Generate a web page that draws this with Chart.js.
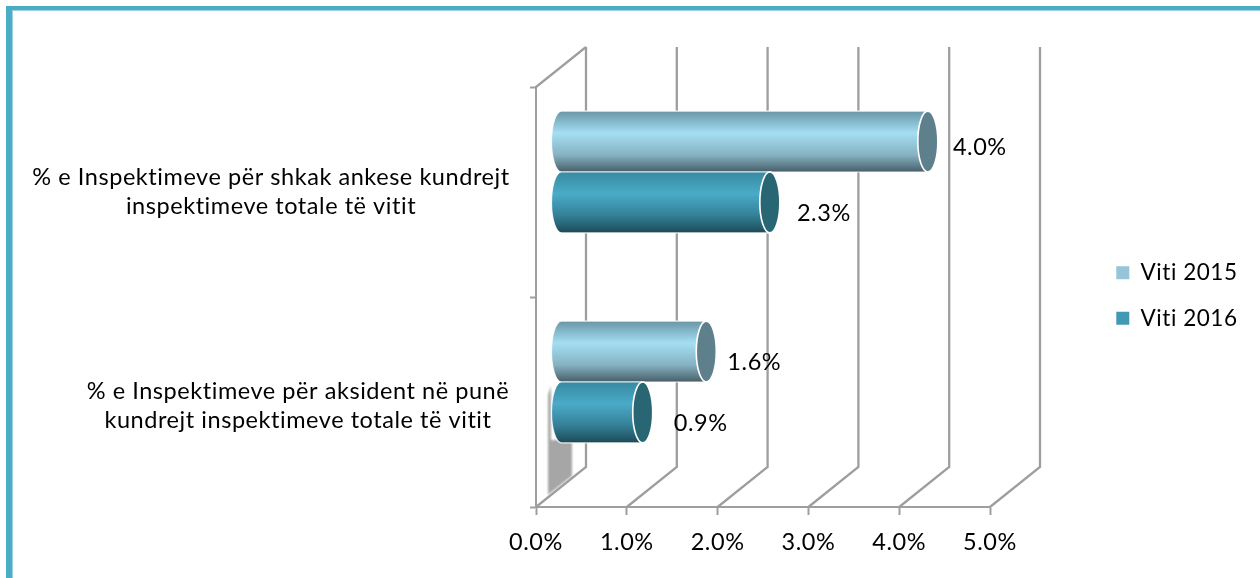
<!DOCTYPE html>
<html>
<head>
<meta charset="utf-8">
<style>
html,body{margin:0;padding:0;background:#fff;overflow:hidden}
#frame{position:absolute;left:6px;top:6px;right:0;bottom:0;border-top:4px solid #4bacc6;border-left:6px solid #4bacc6;box-shadow:inset 1px 1px 0 #9fd3e2}
#c{position:absolute;left:0;top:0}
</style>
<script src="https://cdn.jsdelivr.net/npm/chart.js@4"></script>
</head>
<body>
<div id="frame"></div>
<canvas id="c" width="1260" height="578"></canvas>
<script>
const categories = [
  ['% e Inspektimeve për shkak ankese kundrejt', 'inspektimeve totale të vitit'],
  ['% e Inspektimeve për aksident në punë', 'kundrejt inspektimeve totale të vitit']
];
const seriesNames = ['Viti 2015', 'Viti 2016'];
const values2015 = [4.04, 1.6];
const values2016 = [2.3, 0.9];
const xTicks = [0, 1, 2, 3, 4, 5];

const FONT = 'Lato, "Open Sans", sans-serif';
const FONT_SIZE = 23.5;
const GRID = '#9e9e9e';
const DEPTH = {x: 50, y: -40};
const MID = {x: 25, y: -20};
const AREA = {left: 536, right: 990, top: 87, bottom: 507};
const CAP_RX = 10;
const catLabelCentres = [271, 298];
const catLabelDy = [0, 4];
const valueLabelOffsets = [[52, 6], [54, 10.5], [48, 11], [58, 10.5]];
const styles = [
  {stops: ['#6896a6', '#a5def3', '#86b2c2', '#475e68'], cap: '#5e7f8c'},
  {stops: ['#388aa0', '#4aabc8', '#337f96', '#1d4a56'], cap: '#286674'}
];

const threeD = {
  id: 'threeD',
  beforeInit(chart) { chart.ctx.letterSpacing = '0.55px'; },
  beforeDraw(chart) { chart.ctx.letterSpacing = '0.55px'; },
  afterLayout(chart) {
    // the plot keeps its own right edge; the legend sits further out
    const x = chart.scales.x, area = chart.chartArea;
    x.right = AREA.right; x.width = AREA.right - x.left; x.configure();
    area.right = AREA.right; area.width = AREA.right - area.left;
    const lg = chart.legend;
    lg.top -= 37; lg.bottom -= 37;
  },
  beforeDatasetsDraw(chart) {
    const ctx = chart.ctx, x = chart.scales.x, y = chart.scales.y;
    const top = y.top, bottom = y.bottom;
    ctx.save();
    ctx.strokeStyle = GRID; ctx.lineWidth = 2.3; ctx.lineJoin = 'miter';
    // back-wall lines with their floor diagonals
    xTicks.forEach(v => {
      const px = x.getPixelForValue(v);
      ctx.beginPath();
      ctx.moveTo(px, bottom);
      ctx.lineTo(px + DEPTH.x, bottom + DEPTH.y);
      ctx.lineTo(px + DEPTH.x, top + DEPTH.y);
      ctx.stroke();
    });
    const x0 = x.getPixelForValue(0);
    ctx.beginPath();
    ctx.moveTo(x0, top);
    ctx.lineTo(x0 + DEPTH.x, top + DEPTH.y);
    ctx.stroke();

    // grey floor shadow under the lower bars
    ctx.save();
    ctx.filter = 'blur(1px)';
    ctx.fillStyle = '#a6a6a6';
    ctx.beginPath();
    ctx.moveTo(x0 + 12, 495);
    ctx.lineTo(x0 + 36, 476);
    ctx.lineTo(x0 + 36, 440);
    ctx.lineTo(x0 + 15, 440);
    ctx.lineTo(x0 + 15, 386);
    ctx.lineTo(x0 + 12, 395);
    ctx.closePath();
    ctx.fill();
    ctx.restore();

    // cylinders, from the bars the library laid out
    chart.data.datasets.forEach((ds, di) => {
      const meta = chart.getDatasetMeta(di);
      meta.data.forEach(bar => drawCylinder(ctx, bar, styles[di]));
    });
    ctx.restore();

    // value labels
    ctx.save();
    ctx.fillStyle = '#000';
    ctx.font = FONT_SIZE + 'px ' + FONT;
    ctx.textAlign = 'center'; ctx.textBaseline = 'middle';
    let k = 0;
    chart.data.labels.forEach((_, ci) => {
      chart.data.datasets.forEach((ds, di) => {
        const bar = chart.getDatasetMeta(di).data[ci];
        const off = valueLabelOffsets[k++];
        ctx.fillText(ds.data[ci].toFixed(1) + '%', bar.x + MID.x + off[0], bar.y + MID.y + off[1]);
      });
    });
    // category labels, each centred on its own line
    chart.data.labels.forEach((lines, i) => {
      const py = y.getPixelForTick(i) + catLabelDy[i];
      const lh = 29.5;
      lines.forEach((t, j) => ctx.fillText(t, catLabelCentres[i], py + (j - 0.5) * lh));
    });
    ctx.restore();
    return false;
  }
};

function drawCylinder(ctx, bar, st) {
  const xa = bar.base + MID.x, xb = bar.x + MID.x;
  const cy = bar.y + MID.y, h = bar.height, ry = h / 2;
  const t = cy - ry, b = cy + ry;
  const g = ctx.createLinearGradient(0, t, 0, b);
  g.addColorStop(0, st.stops[0]);
  g.addColorStop(0.36, st.stops[1]);
  g.addColorStop(0.72, st.stops[2]);
  g.addColorStop(1, st.stops[3]);
  ctx.beginPath();
  ctx.moveTo(xb, t);
  ctx.lineTo(xa, t);
  ctx.ellipse(xa, cy, CAP_RX, ry, 0, -Math.PI / 2, -Math.PI * 1.5, true);
  ctx.lineTo(xb, b);
  ctx.ellipse(xb, cy, CAP_RX, ry, 0, Math.PI / 2, -Math.PI / 2, true);
  ctx.closePath();
  ctx.fillStyle = g;
  ctx.fill();
  ctx.strokeStyle = 'rgba(255,255,255,0.85)';
  ctx.lineWidth = 1.2;
  ctx.stroke();
  ctx.beginPath();
  ctx.ellipse(xb, cy, CAP_RX, ry, 0, 0, Math.PI * 2);
  ctx.fillStyle = st.cap;
  ctx.fill();
  ctx.strokeStyle = '#fff';
  ctx.lineWidth = 1.6;
  ctx.stroke();
}

new Chart(document.getElementById('c'), {
  type: 'bar',
  data: {
    labels: categories,
    datasets: [
      {label: seriesNames[0], data: values2015, backgroundColor: '#94c5d8', borderWidth: 0},
      {label: seriesNames[1], data: values2016, backgroundColor: '#4299b2', borderWidth: 0}
    ]
  },
  options: {
    indexAxis: 'y',
    responsive: false,
    animation: false,
    events: [],
    layout: {padding: {top: AREA.top, right: 17, bottom: 0, left: 0}},
    categoryPercentage: 0.58,
    barPercentage: 1,
    scales: {
      x: {
        type: 'linear', min: 0, max: 5,
        border: {color: GRID, width: 2},
        grid: {drawOnChartArea: false, drawTicks: true, tickLength: 8, tickColor: GRID, tickWidth: 2},
        ticks: {
          stepSize: 1, color: '#000', padding: 13, maxRotation: 0, autoSkip: false,
          font: {family: FONT, size: FONT_SIZE},
          callback: v => v.toFixed(1) + '%'
        },
        afterFit(s) { s.height = 578 - AREA.bottom; }
      },
      y: {
        type: 'category', offset: true,
        border: {color: GRID, width: 2},
        grid: {offset: true, drawOnChartArea: false, drawTicks: true, tickLength: 6, tickColor: GRID, tickWidth: 2},
        ticks: {display: false},
        afterFit(s) { s.width = AREA.left; }
      }
    },
    plugins: {
      title: {display: false},
      tooltip: {enabled: false},
      legend: {
        display: true, position: 'right',
        labels: {
          color: '#000', boxWidth: 13, boxHeight: 13, padding: 23,
          font: {family: FONT, size: 22.5}
        }
      }
    }
  },
  plugins: [threeD]
});
</script>
</body>
</html>
